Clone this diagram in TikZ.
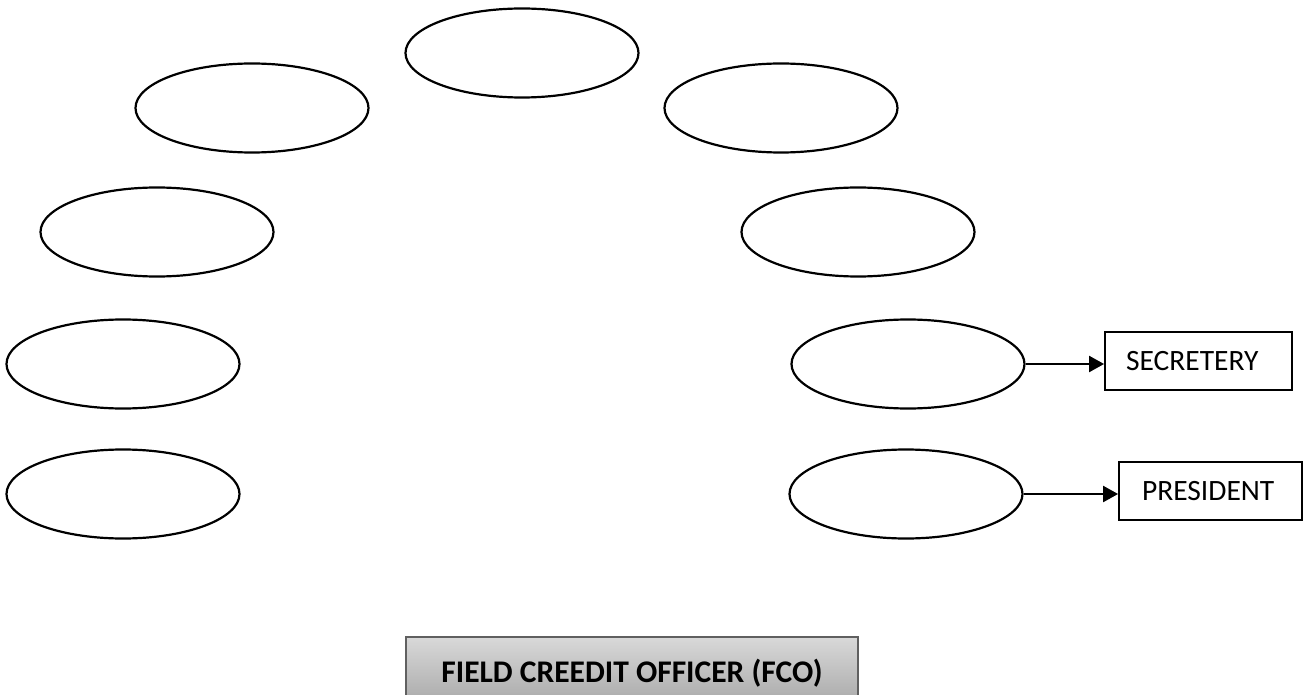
\documentclass[tikz,border=0pt]{standalone}
\usepackage{fontspec}
\setmainfont{Carlito}
\usetikzlibrary{shapes.geometric,arrows.meta}
\begin{document}
\begin{tikzpicture}[x=1pt,y=-1pt,
  oval/.style={ellipse,draw=black,line width=2.2pt,minimum width=233pt,minimum height=89pt,inner sep=0pt},
  labelbox/.style={rectangle,draw=black,line width=1.8pt,minimum height=58pt,inner sep=0pt,align=left,font=\fontsize{29.5}{33}\selectfont},
  conn/.style={line width=2.2pt,-{Triangle[length=15pt,width=16pt]}},
  fcobox/.style={rectangle,draw=gray!75!black,line width=2.2pt,minimum width=452pt,minimum height=72pt,inner sep=0pt,
    top color=gray!30,bottom color=gray!70,font=\bfseries\fontsize{31.5}{35}\selectfont}]
\useasboundingbox (0,0) rectangle (1312,695);
\clip (0,0) rectangle (1312,695);
\node[oval] (e1) at (522,53) {};
\node[oval] (e2) at (252,108) {};
\node[oval] (e3) at (781,108) {};
\node[oval] (e4) at (157,232) {};
\node[oval] (e5) at (858,232) {};
\node[oval] (e6) at (123,364) {};
\node[oval] (e7) at (908,364) {};
\node[oval] (e8) at (123,494) {};
\node[oval] (e9) at (906,494) {};
\node[labelbox,minimum width=187pt,text width=145pt] (sec) at (1198.5,361) {SECRETERY};
\node[labelbox,minimum width=183pt,text width=137pt] (pres) at (1210.5,491) {PRESIDENT};
\draw[conn] (e7.east) -- (e7.east -| sec.west);
\draw[conn] (e9.east) -- (e9.east -| pres.west);
\node[fcobox] (fco) at (632,673) {FIELD CREEDIT OFFICER (FCO)};
\end{tikzpicture}
\end{document}
